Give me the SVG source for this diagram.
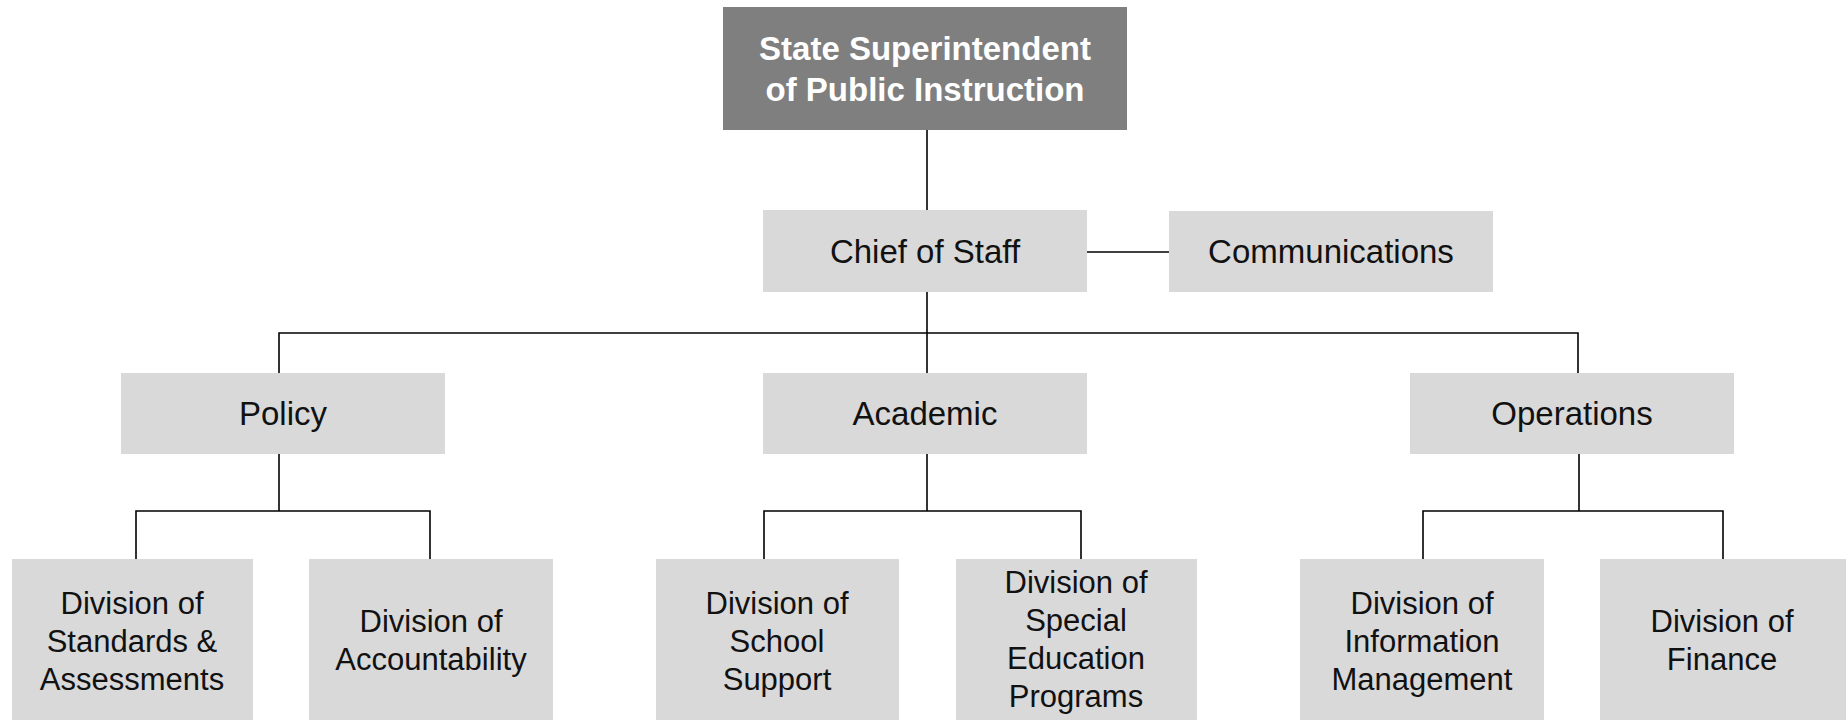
<svg xmlns="http://www.w3.org/2000/svg" width="1846" height="720" viewBox="0 0 1846 720">
  <style>
    .box { fill: #d9d9d9; }
    .head { fill: #7f7f7f; }
    .lbl { font-family: "Liberation Sans", Arial, sans-serif; font-size: 33px; fill: #111; text-anchor: middle; }
    .sm { font-size: 31px; }
    .hd { font-family: "Liberation Sans", Arial, sans-serif; font-size: 33px; font-weight: bold; fill: #fff; text-anchor: middle; }
    .conn { fill: none; stroke: #000; stroke-width: 1.6; }
  </style>

  <!-- connectors -->
  <g id="connectors" class="conn">
    <path d="M927 130 V373"/>
    <path d="M1087 252 H1169"/>
    <path d="M279 373 V333 H1578 V373"/>
    <path d="M279 454 V511"/>
    <path d="M136 559 V511 H430 V559"/>
    <path d="M927 454 V511"/>
    <path d="M764 559 V511 H1081 V559"/>
    <path d="M1579 454 V511"/>
    <path d="M1423 559 V511 H1723 V559"/>
  </g>

  <g id="superintendent">
    <rect class="head" x="723" y="7" width="404" height="123"/>
    <text class="hd" x="925" y="60">State Superintendent</text>
    <text class="hd" x="925" y="101">of Public Instruction</text>
  </g>

  <g id="chief-of-staff">
    <rect class="box" x="763" y="210" width="324" height="82"/>
    <text class="lbl" x="925" y="263">Chief of Staff</text>
  </g>

  <g id="communications">
    <rect class="box" x="1169" y="211" width="324" height="81"/>
    <text class="lbl" x="1331" y="263">Communications</text>
  </g>

  <g id="policy">
    <rect class="box" x="121" y="373" width="324" height="81"/>
    <text class="lbl" x="283" y="425">Policy</text>
  </g>

  <g id="academic">
    <rect class="box" x="763" y="373" width="324" height="81"/>
    <text class="lbl" x="925" y="425">Academic</text>
  </g>

  <g id="operations">
    <rect class="box" x="1410" y="373" width="324" height="81"/>
    <text class="lbl" x="1572" y="425">Operations</text>
  </g>

  <g id="standards-assessments">
    <rect class="box" x="12" y="559" width="241" height="162"/>
    <text class="lbl sm" x="132" y="614">Division of</text>
    <text class="lbl sm" x="132" y="652">Standards &amp;</text>
    <text class="lbl sm" x="132" y="690">Assessments</text>
  </g>

  <g id="accountability">
    <rect class="box" x="309" y="559" width="244" height="162"/>
    <text class="lbl sm" x="431" y="632">Division of</text>
    <text class="lbl sm" x="431" y="670">Accountability</text>
  </g>

  <g id="school-support">
    <rect class="box" x="656" y="559" width="243" height="162"/>
    <text class="lbl sm" x="777" y="614">Division of</text>
    <text class="lbl sm" x="777" y="652">School</text>
    <text class="lbl sm" x="777" y="690">Support</text>
  </g>

  <g id="special-education">
    <rect class="box" x="956" y="559" width="241" height="162"/>
    <text class="lbl sm" x="1076" y="593">Division of</text>
    <text class="lbl sm" x="1076" y="631">Special</text>
    <text class="lbl sm" x="1076" y="669">Education</text>
    <text class="lbl sm" x="1076" y="707">Programs</text>
  </g>

  <g id="information-management">
    <rect class="box" x="1300" y="559" width="244" height="162"/>
    <text class="lbl sm" x="1422" y="614">Division of</text>
    <text class="lbl sm" x="1422" y="652">Information</text>
    <text class="lbl sm" x="1422" y="690">Management</text>
  </g>

  <g id="finance">
    <rect class="box" x="1600" y="559" width="246" height="162"/>
    <text class="lbl sm" x="1722" y="632">Division of</text>
    <text class="lbl sm" x="1722" y="670">Finance</text>
  </g>
</svg>
